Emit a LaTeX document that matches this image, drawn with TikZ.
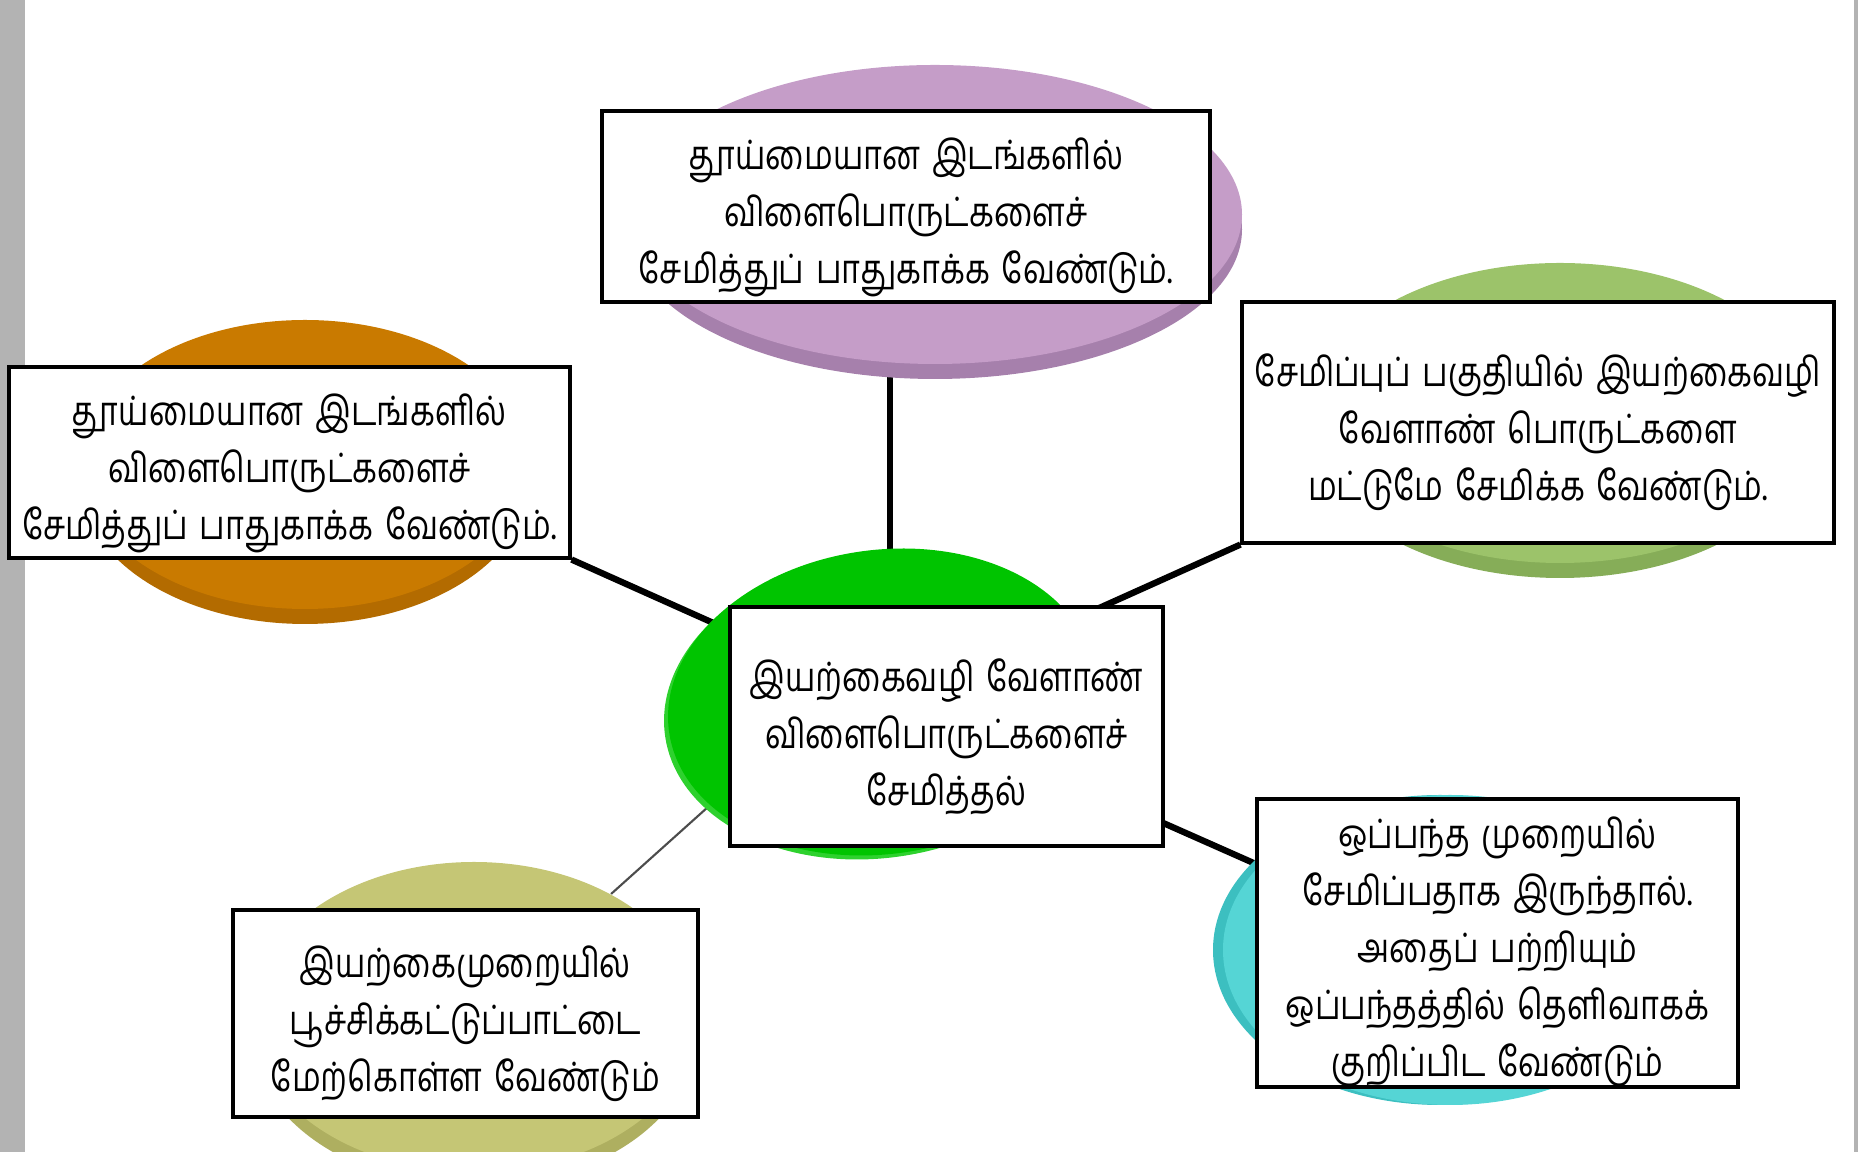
\documentclass[tikz,border=0pt]{standalone}
\usepackage{fontspec}
\newfontfamily\tamilfont[Script=Tamil, FakeStretch=0.8, WordSpace=1.5]{Hind Madurai}
\usetikzlibrary{shapes.geometric, shadows, backgrounds}

\definecolor{pagegray}{HTML}{B3B3B3}
\definecolor{lilac}{HTML}{C59DC8}
\definecolor{lilacrim}{HTML}{A680AC}
\definecolor{amber}{HTML}{C97A00}
\definecolor{amberrim}{HTML}{B36B00}
\definecolor{sage}{HTML}{9CC36A}
\definecolor{sagerim}{HTML}{86AD58}
\definecolor{leaf}{HTML}{00C400}
\definecolor{leafrim}{HTML}{2ED12E}
\definecolor{aqua}{HTML}{55D5D5}
\definecolor{aquarim}{HTML}{3CBFC0}
\definecolor{khaki}{HTML}{C5C675}
\definecolor{khakirim}{HTML}{AEAF60}

\newcommand{\firstline}[1][15pt]{\rule{0pt}{#1}}

\begin{document}
\begin{tikzpicture}[
    disc/.style={ellipse, draw=none, inner sep=0},
    note/.style={draw, line width=0.9pt, fill=white, align=center, inner sep=0,
        font={\tamilfont\fontsize{11.5}{16.2}\selectfont}},
    spoke/.style={line width=1.8pt}
  ]
  \useasboundingbox (0,0) rectangle (18.58,11.52);
  \fill[pagegray] (0,0) rectangle (0.25,11.52);
  \fill[pagegray] (18.54,0) rectangle (18.58,11.52);

  % discs behind the boxes
  \node[disc, fill=lilac, minimum width=6.14cm, minimum height=2.99cm,
    general shadow={fill=lilacrim, shadow yshift=-0.15cm}] (purple) at (9.35, 9.375) {};
  \node[disc, fill=amber, minimum width=4.50cm, minimum height=2.89cm,
    general shadow={fill=amberrim, shadow yshift=-0.15cm}] (orange) at (3.05, 6.875) {};
  \node[disc, fill=sage, minimum width=5.00cm, minimum height=3.00cm,
    general shadow={fill=sagerim, shadow yshift=-0.15cm}] (green) at (15.60, 7.39) {};
  \node[disc, fill=leaf, rotate=8, minimum width=4.30cm, minimum height=3.04cm,
    general shadow={fill=leafrim, shadow xshift=-0.04cm, shadow yshift=-0.04cm}] (hub) at (8.82, 4.50) {};
  \node[disc, fill=aqua, minimum width=4.54cm, minimum height=3.10cm,
    general shadow={fill=aquarim, shadow xshift=-0.10cm}] (cyan) at (14.50, 2.02) {};
  \node[disc, fill=khaki, minimum width=4.46cm, minimum height=3.10cm,
    general shadow={fill=khakirim, shadow yshift=-0.15cm}] (olive) at (4.74, 1.35) {};

  % text boxes
  \node[note, minimum width=6.08cm, minimum height=1.91cm] (topnote) at (9.06, 9.455)
    {\firstline தூய்மையான இடங்களில்\\விளைபொருட்களைச்\\சேமித்துப் பாதுகாக்க வேண்டும்.};
  \node[note, minimum width=5.61cm, minimum height=1.91cm] (leftnote) at (2.895, 6.895)
    {\firstline தூய்மையான இடங்களில்\\விளைபொருட்களைச்\\சேமித்துப் பாதுகாக்க வேண்டும்.};
  \node[note, minimum width=5.92cm, minimum height=2.41cm] (rightnote) at (15.38, 7.295)
    {\firstline சேமிப்புப் பகுதியில் இயற்கைவழி\\வேளாண் பொருட்களை\\மட்டுமே சேமிக்க வேண்டும்.};
  \node[note, minimum width=4.33cm, minimum height=2.39cm] (hubnote) at (9.465, 4.255)
    {\firstline இயற்கைவழி வேளாண்\\விளைபொருட்களைச்\\சேமித்தல்};
  \node[note, minimum width=4.81cm, minimum height=2.88cm] (cyannote) at (14.975, 2.09)
    {\firstline[11pt]ஒப்பந்த முறையில்\\சேமிப்பதாக இருந்தால்.\\அதைப் பற்றியும்\\ஒப்பந்தத்தில் தெளிவாகக்\\\smash{குறிப்பிட வேண்டும்}};
  \node[note, minimum width=4.65cm, minimum height=2.07cm] (olivenote) at (4.655, 1.385)
    {\firstline இயற்கைமுறையில்\\பூச்சிக்கட்டுப்பாட்டை\\மேற்கொள்ள வேண்டும்};

  % spokes
  \coordinate (c) at (8.90, 4.50);
  \coordinate (hubin) at (8.25, 4.50);
  \begin{scope}[on background layer]
    \draw[spoke] (c) -- (c |- purple);
    \draw[spoke] (c) -- (leftnote.south east);
    \draw[spoke] (c) -- (rightnote.south west);
    \draw[spoke] (c) -- (cyan);
    \draw[line width=0.6pt, black!70] (olive) -- (hubin);
  \end{scope}
\end{tikzpicture}
\end{document}
